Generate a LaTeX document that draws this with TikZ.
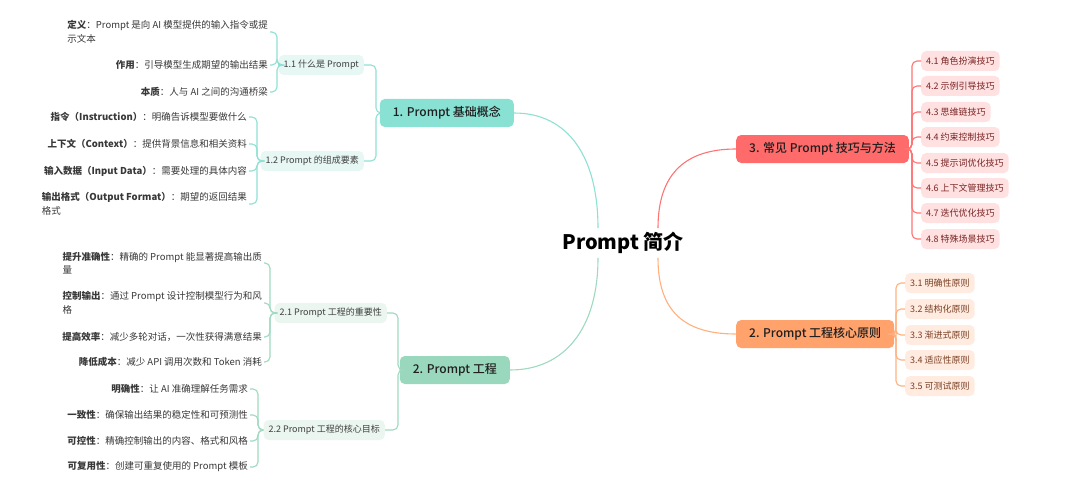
\documentclass[tikz,border=0pt]{standalone}
\usepackage{fontspec}
\setmainfont{Noto Sans CJK SC}
\newfontfamily\medfont{Noto Sans CJK SC Medium}
\usepackage{tikz}
\usetikzlibrary{calc}
\definecolor{tealA}{HTML}{89E1D4}
\definecolor{tealB}{HTML}{E6F7F4}
\definecolor{tealL}{HTML}{8EE0D2}
\definecolor{greenA}{HTML}{9AD8BE}
\definecolor{greenB}{HTML}{EAF6EF}
\definecolor{greenL}{HTML}{9ED9C0}
\definecolor{redA}{HTML}{FF6B6B}
\definecolor{redB}{HTML}{FFE1E1}
\definecolor{redL}{HTML}{FF7373}
\definecolor{redT}{HTML}{7A2424}
\definecolor{orA}{HTML}{FFA26B}
\definecolor{orB}{HTML}{FFEBDF}
\definecolor{orL}{HTML}{FFB07F}
\definecolor{orT}{HTML}{7A4025}

\begin{document}
\begin{tikzpicture}[x=1pt, y=-1pt,
  root/.style={font=\fontsize{20}{24}\selectfont\bfseries, inner sep=4},
  big/.style={rounded corners=5, minimum height=28, inner xsep=13, font=\fontsize{12}{14}\selectfont\medfont, text=black!88},
  sub/.style={rounded corners=5, minimum height=20, inner xsep=5, inner ysep=2, font=\fontsize{9}{11}\selectfont},
  leaf/.style={font=\fontsize{9.5}{13.5}\selectfont, text=black!78, inner sep=2, align=left},
  conn/.style={line width=1.1, rounded corners=5}]
\useasboundingbox (0,0) rectangle (1080,495);

\node[root] (C) at (623,243) {Prompt 简介};

\node[big, fill=tealA, anchor=east] (B1) at (514,113) {1. Prompt 基础概念};
\node[big, fill=greenA, anchor=east] (B2) at (510,370) {2. Prompt 工程};
\node[big, fill=redA, anchor=west] (B3) at (736,149) {3. 常见 Prompt 技巧与方法};
\node[big, fill=orA, anchor=west] (B4) at (736,334) {2. Prompt 工程核心原则};

\draw[conn, tealL] (B1.east) .. controls +(55,0) and +(0,-70) .. ($(C.north)+(-25,0)$);
\draw[conn, greenL] (B2.east) .. controls +(55,0) and +(0,70) .. ($(C.south)+(-25,0)$);
\draw[conn, redL] (B3.west) .. controls +(-50,0) and +(0,-55) .. ($(C.north)+(35,0)$);
\draw[conn, orL] (B4.west) .. controls +(-50,0) and +(0,55) .. ($(C.south)+(35,0)$);

% branch 1
\coordinate (j1) at (376,0);
\node[sub, fill=tealB, text=black!75, anchor=east] (S11) at (364,65) {1.1 什么是 Prompt};
\node[sub, fill=tealB, text=black!75, anchor=east] (S12) at (364,161) {1.2 Prompt 的组成要素};
\draw[conn, tealL] (B1.west) -- (B1.west -| j1) |- (S11.east);
\draw[conn, tealL] (B1.west) -- (B1.west -| j1) |- (S12.east);

\coordinate (k1) at (277,0);
\node[leaf, anchor=east] (L11a) at (270,32) {{\bfseries 定义}：Prompt 是向 AI 模型提供的输入指令或提\\示文本};
\node[leaf, anchor=east] (L11b) at (270,65) {{\bfseries 作用}：引导模型生成期望的输出结果};
\node[leaf, anchor=east] (L11c) at (270,92) {{\bfseries 本质}：人与 AI 之间的沟通桥梁};
\draw[conn, tealL] (S11.west) -- (S11.west -| k1) |- (L11a.east);
\draw[conn, tealL] (S11.west) -- (S11.west -| k1) |- (L11b.east);
\draw[conn, tealL] (S11.west) -- (S11.west -| k1) |- (L11c.east);

\coordinate (k2) at (257,0);
\node[leaf, anchor=east] (L12a) at (249,117) {{\bfseries 指令（Instruction）}：明确告诉模型要做什么};
\node[leaf, anchor=east] (L12b) at (249,144) {{\bfseries 上下文（Context）}：提供背景信息和相关资料};
\node[leaf, anchor=east] (L12c) at (249,171) {{\bfseries 输入数据（Input Data）}：需要处理的具体内容};
\node[leaf, anchor=east] (L12d) at (249,204) {{\bfseries 输出格式（Output Format）}：期望的返回结果\\格式};
\draw[conn, tealL] (S12.west) -- (S12.west -| k2) |- (L12a.east);
\draw[conn, tealL] (S12.west) -- (S12.west -| k2) |- (L12b.east);
\draw[conn, tealL] (S12.west) -- (S12.west -| k2) |- (L12c.east);
\draw[conn, tealL] (S12.west) -- (S12.west -| k2) |- (L12d.east);

% branch 2
\coordinate (j2) at (398,0);
\node[sub, fill=greenB, text=black!75, anchor=east] (S21) at (387,313) {2.1 Prompt 工程的重要性};
\node[sub, fill=greenB, text=black!75, anchor=east] (S22) at (385,430) {2.2 Prompt 工程的核心目标};
\draw[conn, greenL] (B2.west) -- (B2.west -| j2) |- (S21.east);
\draw[conn, greenL] (B2.west) -- (B2.west -| j2) |- (S22.east);

\coordinate (k3) at (270,0);
\node[leaf, anchor=east] (L21a) at (264,263) {{\bfseries 提升准确性}：精确的 Prompt 能显著提高输出质\\量};
\node[leaf, anchor=east] (L21b) at (264,303) {{\bfseries 控制输出}：通过 Prompt 设计控制模型行为和风\\格};
\node[leaf, anchor=east] (L21c) at (264,337) {{\bfseries 提高效率}：减少多轮对话，一次性获得满意结果};
\node[leaf, anchor=east] (L21d) at (264,362) {{\bfseries 降低成本}：减少 API 调用次数和 Token 消耗};
\draw[conn, greenL] (S21.west) -- (S21.west -| k3) |- (L21a.east);
\draw[conn, greenL] (S21.west) -- (S21.west -| k3) |- (L21b.east);
\draw[conn, greenL] (S21.west) -- (S21.west -| k3) |- (L21c.east);
\draw[conn, greenL] (S21.west) -- (S21.west -| k3) |- (L21d.east);

\coordinate (k4) at (258,0);
\node[leaf, anchor=east] (L22a) at (250,389) {{\bfseries 明确性}：让 AI 准确理解任务需求};
\node[leaf, anchor=east] (L22b) at (250,415) {{\bfseries 一致性}：确保输出结果的稳定性和可预测性};
\node[leaf, anchor=east] (L22c) at (250,441) {{\bfseries 可控性}：精确控制输出的内容、格式和风格};
\node[leaf, anchor=east] (L22d) at (250,467) {{\bfseries 可复用性}：创建可重复使用的 Prompt 模板};
\draw[conn, greenL] (S22.west) -- (S22.west -| k4) |- (L22a.east);
\draw[conn, greenL] (S22.west) -- (S22.west -| k4) |- (L22b.east);
\draw[conn, greenL] (S22.west) -- (S22.west -| k4) |- (L22c.east);
\draw[conn, greenL] (S22.west) -- (S22.west -| k4) |- (L22d.east);

% branch 3
\coordinate (j3) at (912,0);
\node[sub, fill=redB, text=redT, anchor=west] (R1) at (921,61) {4.1 角色扮演技巧};
\node[sub, fill=redB, text=redT, anchor=west] (R2) at (921,86) {4.2 示例引导技巧};
\node[sub, fill=redB, text=redT, anchor=west] (R3) at (921,112) {4.3 思维链技巧};
\node[sub, fill=redB, text=redT, anchor=west] (R4) at (921,137) {4.4 约束控制技巧};
\node[sub, fill=redB, text=redT, anchor=west] (R5) at (921,163) {4.5 提示词优化技巧};
\node[sub, fill=redB, text=redT, anchor=west] (R6) at (921,188) {4.6 上下文管理技巧};
\node[sub, fill=redB, text=redT, anchor=west] (R7) at (921,213) {4.7 迭代优化技巧};
\node[sub, fill=redB, text=redT, anchor=west] (R8) at (921,239) {4.8 特殊场景技巧};
\draw[conn, redL] (B3.east) -- (B3.east -| j3) |- (R1.west);
\draw[conn, redL] (B3.east) -- (B3.east -| j3) |- (R2.west);
\draw[conn, redL] (B3.east) -- (B3.east -| j3) |- (R3.west);
\draw[conn, redL] (B3.east) -- (B3.east -| j3) |- (R4.west);
\draw[conn, redL] (B3.east) -- (B3.east -| j3) |- (R5.west);
\draw[conn, redL] (B3.east) -- (B3.east -| j3) |- (R6.west);
\draw[conn, redL] (B3.east) -- (B3.east -| j3) |- (R7.west);
\draw[conn, redL] (B3.east) -- (B3.east -| j3) |- (R8.west);

% branch 4
\coordinate (j4) at (896,0);
\node[sub, fill=orB, text=orT, anchor=west] (O1) at (905,283) {3.1 明确性原则};
\node[sub, fill=orB, text=orT, anchor=west] (O2) at (905,309) {3.2 结构化原则};
\node[sub, fill=orB, text=orT, anchor=west] (O3) at (905,335) {3.3 渐进式原则};
\node[sub, fill=orB, text=orT, anchor=west] (O4) at (905,360) {3.4 适应性原则};
\node[sub, fill=orB, text=orT, anchor=west] (O5) at (905,386) {3.5 可测试原则};
\draw[conn, orL] (B4.east) -- (B4.east -| j4) |- (O1.west);
\draw[conn, orL] (B4.east) -- (B4.east -| j4) |- (O2.west);
\draw[conn, orL] (B4.east) -- (B4.east -| j4) |- (O3.west);
\draw[conn, orL] (B4.east) -- (B4.east -| j4) |- (O4.west);
\draw[conn, orL] (B4.east) -- (B4.east -| j4) |- (O5.west);
\end{tikzpicture}
\end{document}
